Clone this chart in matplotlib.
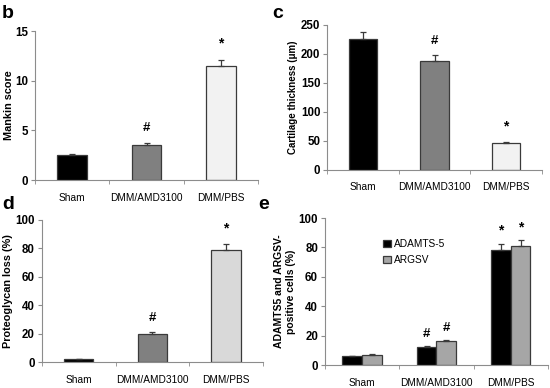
import numpy as np
from matplotlib import pyplot as plt

plt.rcParams["font.family"] = ["Liberation Sans", "DejaVu Sans"]

groups = ["Sham", "DMM/AMD3100", "DMM/PBS"]

mankin = [2.5, 3.5, 11.5]
mankin_err = [0.15, 0.25, 0.6]

thickness = [225, 188, 46]
thickness_err = [12, 10, 3]

pg_loss = [2, 20, 79]
pg_loss_err = [0.3, 1, 4]

adamts5 = [6, 12, 78.5]
adamts5_err = [0.5, 1, 4]
argsv = [7, 16.5, 81]
argsv_err = [0.3, 0.6, 4]

marks_b = ["", "#", "*"]
marks_c = ["", "#", "*"]
marks_d = ["", "#", "*"]
marks_e = ["", "#", "*"]

EDGE = "#3a3a3a"
AXC = "#8c8c8c"


def style_axis(ax, ymax, step):
    ax.set_xlim(-0.5, 2.5)
    ax.set_ylim(0, ymax)
    ax.set_yticks(np.arange(0, ymax + 1e-9, step))
    ax.set_xticks(range(3))
    ax.set_xticklabels(groups, fontsize=7.3)
    ax.set_xticks([-0.5, 0.5, 1.5, 2.5], minor=True)
    ax.tick_params(axis="x", which="major", length=0, pad=9)
    ax.tick_params(axis="x", which="minor", length=3, color=AXC, direction="out")
    ax.tick_params(axis="y", length=3, color=AXC, direction="out", labelsize=8.3, pad=2)
    for lab in ax.get_yticklabels():
        lab.set_fontweight("bold")
    for s in ["top", "right"]:
        ax.spines[s].set_visible(False)
    for s in ["left", "bottom"]:
        ax.spines[s].set_color(AXC)
        ax.spines[s].set_linewidth(0.8)


def single(ax, vals, errs, colors, marks, ymax, step, gap):
    x = np.arange(3)
    ax.bar(x, vals, width=0.4, color=colors, edgecolor=EDGE, linewidth=0.9, zorder=2)
    ax.errorbar(x, vals, yerr=[np.zeros(3), errs], fmt="none", ecolor=EDGE,
                elinewidth=0.9, capsize=2.5, capthick=0.9, zorder=3)
    for xi, v, e, m in zip(x, vals, errs, marks):
        if m:
            fs = 10 if m == "*" else 9.5
            ax.text(xi, v + e + gap, m, ha="center", va="bottom", fontsize=fs, fontweight="bold")
    style_axis(ax, ymax, step)


fig = plt.figure(figsize=(5.5, 3.88), dpi=100)

ax_b = fig.add_axes([0.064, 0.536, 0.405, 0.384])
single(ax_b, mankin, mankin_err, ["black", "#808080", "#f2f2f2"], marks_b, 15, 5, 0.9)
ax_b.set_ylabel("Mankin score", fontsize=7.8, fontweight="bold", labelpad=1)

ax_c = fig.add_axes([0.595, 0.562, 0.39, 0.374])
single(ax_c, thickness, thickness_err, ["black", "#808080", "#f2f2f2"], marks_c, 250, 50, 14)
ax_c.set_ylabel("Cartilage thickness (μm)", fontsize=7, fontweight="bold", labelpad=2)

ax_d = fig.add_axes([0.076, 0.067, 0.402, 0.366])
single(ax_d, pg_loss, pg_loss_err, ["black", "#808080", "#d9d9d9"], marks_d, 100, 20, 6)
ax_d.set_ylabel("Proteoglycan loss (%)", fontsize=7.8, fontweight="bold", labelpad=2)

ax_e = fig.add_axes([0.591, 0.059, 0.405, 0.379])
x = np.arange(3)
w = 0.265
ax_e.bar(x - w / 2, adamts5, width=w, color="black", edgecolor=EDGE, linewidth=0.9,
         label="ADAMTS-5", zorder=2)
ax_e.bar(x + w / 2, argsv, width=w, color="#a6a6a6", edgecolor=EDGE, linewidth=0.9,
         label="ARGSV", zorder=2)
ax_e.errorbar(x - w / 2, adamts5, yerr=[np.zeros(3), adamts5_err], fmt="none", ecolor=EDGE,
              elinewidth=0.9, capsize=2.5, capthick=0.9, zorder=3)
ax_e.errorbar(x + w / 2, argsv, yerr=[np.zeros(3), argsv_err], fmt="none", ecolor=EDGE,
              elinewidth=0.9, capsize=2.5, capthick=0.9, zorder=3)
for xi, a, ae, g, ge, m in zip(x, adamts5, adamts5_err, argsv, argsv_err, marks_e):
    if m:
        fs = 10 if m == "*" else 9.5
        ax_e.text(xi - w / 2, a + ae + 4, m, ha="center", va="bottom", fontsize=fs, fontweight="bold")
        ax_e.text(xi + w / 2, g + ge + 4, m, ha="center", va="bottom", fontsize=fs, fontweight="bold")
style_axis(ax_e, 100, 20)
ax_e.set_ylabel("ADAMTS5 and ARGSV-\npositive cells (%)", fontsize=7.5, fontweight="bold",
                labelpad=2, linespacing=1.2)
ax_e.legend(loc="upper left", bbox_to_anchor=(0.22, 0.92), frameon=False, fontsize=7.3,
            handlelength=0.8, handleheight=0.8, handletextpad=0.3, labelspacing=0.6)

for letter, (px, py) in zip("bcde", [(2, 5), (272, 5), (2, 196), (258, 196)]):
    fig.text(px / 550, 1 - py / 388, letter, fontsize=14, fontweight="bold", va="top", ha="left")

fig.savefig("out.png", dpi=100)
